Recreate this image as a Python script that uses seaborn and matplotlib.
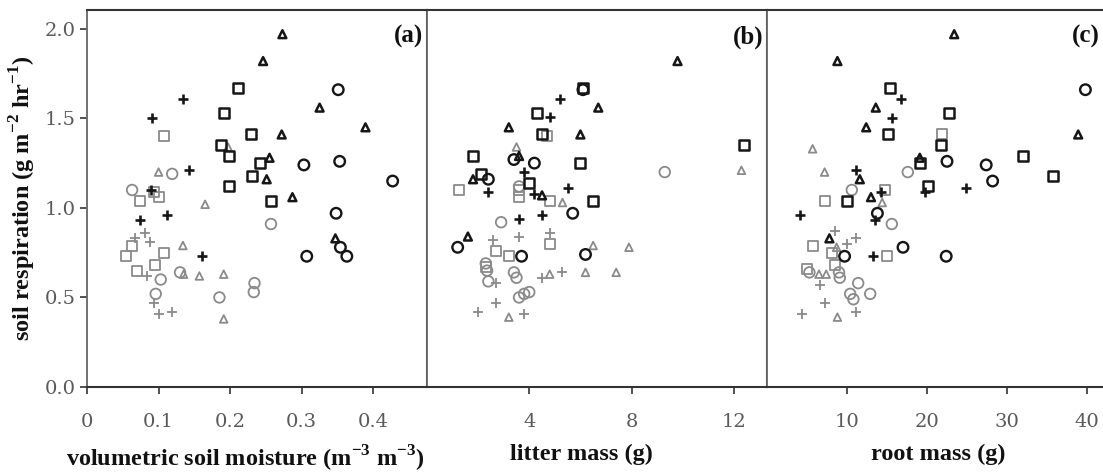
import matplotlib
matplotlib.use("Agg")
from matplotlib import pyplot as plt
import pandas as pd
import seaborn as sns

# soil respiration vs. moisture / litter / roots
# each list holds (x, respiration) pairs

# panel (a): volumetric soil moisture
a_black_tri = [(0.273, 1.97), (0.246, 1.82), (0.325, 1.56), (0.272, 1.41), (0.389, 1.45),
               (0.255, 1.28), (0.251, 1.16), (0.287, 1.06), (0.347, 0.83)]
a_black_sq = [(0.211, 1.67), (0.192, 1.53), (0.229, 1.41), (0.187, 1.35), (0.198, 1.29),
              (0.242, 1.25), (0.230, 1.18), (0.198, 1.12), (0.257, 1.04)]
a_black_circ = [(0.351, 1.66), (0.303, 1.24), (0.353, 1.26), (0.427, 1.15), (0.348, 0.97),
                (0.307, 0.73), (0.354, 0.78), (0.363, 0.73)]
a_black_plus = [(0.134, 1.61), (0.091, 1.50), (0.143, 1.21), (0.089, 1.10), (0.074, 0.93),
                (0.112, 0.96), (0.161, 0.73)]
a_gray_sq = [(0.108, 1.40), (0.074, 1.04), (0.101, 1.06), (0.093, 1.09), (0.054, 0.73),
             (0.063, 0.79), (0.070, 0.65), (0.095, 0.68), (0.108, 0.75)]
a_gray_circ = [(0.063, 1.10), (0.119, 1.19), (0.257, 0.91), (0.103, 0.60), (0.096, 0.52),
               (0.130, 0.64), (0.185, 0.50), (0.234, 0.58), (0.233, 0.53)]
a_gray_tri = [(0.100, 1.20), (0.165, 1.02), (0.197, 1.34), (0.134, 0.79), (0.135, 0.63),
              (0.157, 0.62), (0.191, 0.63), (0.191, 0.38)]
a_gray_plus = [(0.067, 0.83), (0.081, 0.86), (0.088, 0.81), (0.084, 0.62), (0.094, 0.47),
               (0.101, 0.41), (0.119, 0.42)]

# panel (b): litter mass
b_black_tri = [(9.8, 1.82), (6.7, 1.56), (3.2, 1.45), (6.0, 1.41), (3.6, 1.29),
               (1.8, 1.16), (4.5, 1.07), (1.6, 0.84)]
b_black_sq = [(6.1, 1.67), (4.3, 1.53), (4.5, 1.41), (1.8, 1.29), (6.0, 1.25),
              (2.1, 1.19), (4.0, 1.14), (6.5, 1.04), (12.4, 1.35)]
b_black_circ = [(6.1, 1.66), (3.4, 1.27), (4.2, 1.25), (2.4, 1.16), (5.7, 0.97),
                (1.2, 0.78), (3.7, 0.73), (6.2, 0.74)]
b_black_plus = [(5.2, 1.61), (4.8, 1.51), (3.8, 1.20), (2.4, 1.09), (4.2, 1.08),
                (5.5, 1.11), (3.6, 0.94), (4.5, 0.96)]
b_gray_sq = [(1.25, 1.10), (4.7, 1.40), (3.6, 1.10), (3.6, 1.06), (4.8, 1.04),
             (2.7, 0.76), (3.2, 0.73), (4.8, 0.80), (2.3, 0.67)]
b_gray_circ = [(9.3, 1.20), (2.9, 0.92), (3.6, 1.12), (2.3, 0.69), (2.35, 0.65),
               (2.4, 0.59), (3.4, 0.64), (3.5, 0.61), (3.6, 0.50), (3.8, 0.52), (4.0, 0.53)]
b_gray_tri = [(12.3, 1.21), (3.5, 1.34), (5.3, 1.03), (6.5, 0.79), (7.9, 0.78),
              (4.8, 0.63), (6.2, 0.64), (7.4, 0.64), (3.2, 0.39)]
b_gray_plus = [(2.6, 0.82), (3.6, 0.84), (4.8, 0.86), (2.7, 0.58), (4.5, 0.61),
               (5.3, 0.64), (2.7, 0.47), (2.0, 0.42), (3.8, 0.41)]

# panel (c): root mass
c_black_tri = [(23.4, 1.97), (8.8, 1.82), (13.6, 1.56), (12.4, 1.45), (38.9, 1.41),
               (19.1, 1.28), (11.6, 1.16), (13.0, 1.06), (7.8, 0.83)]
c_black_sq = [(15.4, 1.67), (22.8, 1.53), (15.1, 1.41), (21.7, 1.35), (19.1, 1.25),
              (32.0, 1.29), (35.8, 1.18), (20.1, 1.12), (10.0, 1.04)]
c_black_circ = [(39.8, 1.66), (22.5, 1.26), (27.4, 1.24), (28.2, 1.15), (13.8, 0.97),
                (17.0, 0.78), (9.7, 0.73), (22.4, 0.73)]
c_black_plus = [(16.8, 1.61), (15.6, 1.50), (11.1, 1.21), (19.8, 1.09), (24.9, 1.11),
                (14.3, 1.09), (4.1, 0.96), (13.5, 0.93), (13.3, 0.73)]
c_gray_sq = [(21.9, 1.41), (7.2, 1.04), (14.8, 1.10), (5.7, 0.79), (8.1, 0.75),
             (15.0, 0.73), (8.5, 0.68), (5.0, 0.66)]
c_gray_circ = [(17.6, 1.20), (10.6, 1.10), (15.6, 0.91), (9.0, 0.64), (9.1, 0.61),
               (11.4, 0.58), (10.4, 0.52), (10.8, 0.49), (12.9, 0.52), (5.3, 0.64)]
c_gray_tri = [(5.7, 1.33), (7.2, 1.20), (14.4, 1.03), (8.7, 0.78), (7.4, 0.63),
              (6.5, 0.63), (8.8, 0.39)]
c_gray_plus = [(8.5, 0.87), (10.0, 0.80), (11.1, 0.83), (6.6, 0.57), (7.3, 0.47),
               (4.4, 0.41), (11.1, 0.42)]

x_labels = ["volumetric soil moisture (m$^{-3}$ m$^{-3}$)", "litter mass (g)", "root mass (g)"]
panel_tags = ["(a)", "(b)", "(c)"]
tag_x = [0.99, 0.99, 0.978]
label_x = [0.465, 0.455, 0.505]
x_ticks = [[0, 0.1, 0.2, 0.3, 0.4], [4, 8, 12], [10, 20, 30, 40]]
x_ticklabels = [["0", "0.1", "0.2", "0.3", "0.4"], ["4", "8", "12"], ["10", "20", "30", "40"]]
x_limits = [(0, 0.475), (0, 13.3), (0, 42.5)]
y_ticks = [0.0, 0.5, 1.0, 1.5, 2.0]

BLACK = "#161616"
GRAY = "#8a8a8a"
# group name -> (marker, colour, size, line width)
styles = {
    "black_tri": ("^", BLACK, 32, 1.8),
    "black_sq": ("s", BLACK, 52, 1.8),
    "black_circ": ("o", BLACK, 58, 1.7),
    "black_plus": ("+", BLACK, 55, 1.9),
    "gray_sq": ("s", GRAY, 52, 1.3),
    "gray_circ": ("o", GRAY, 58, 1.3),
    "gray_tri": ("^", GRAY, 30, 1.3),
    "gray_plus": ("+", GRAY, 55, 1.3),
}
panels = [
    {"black_tri": a_black_tri, "black_sq": a_black_sq, "black_circ": a_black_circ,
     "black_plus": a_black_plus, "gray_sq": a_gray_sq, "gray_circ": a_gray_circ,
     "gray_tri": a_gray_tri, "gray_plus": a_gray_plus},
    {"black_tri": b_black_tri, "black_sq": b_black_sq, "black_circ": b_black_circ,
     "black_plus": b_black_plus, "gray_sq": b_gray_sq, "gray_circ": b_gray_circ,
     "gray_tri": b_gray_tri, "gray_plus": b_gray_plus},
    {"black_tri": c_black_tri, "black_sq": c_black_sq, "black_circ": c_black_circ,
     "black_plus": c_black_plus, "gray_sq": c_gray_sq, "gray_circ": c_gray_circ,
     "gray_tri": c_gray_tri, "gray_plus": c_gray_plus},
]

sns.set_theme(style="ticks")
plt.rcParams["font.family"] = ["Liberation Serif", "DejaVu Serif"]
plt.rcParams["mathtext.fontset"] = "custom"
plt.rcParams["mathtext.rm"] = "Liberation Serif:bold"
plt.rcParams["mathtext.bf"] = "Liberation Serif:bold"

tick_font = {"family": "DejaVu Serif", "size": 14, "color": "#5a5a5a"}

fig = plt.figure(figsize=(11.03, 4.74), dpi=100)
W, H = 1103.0, 474.0
lefts = [87, 427, 767]
for i, left in enumerate(lefts):
    ax = fig.add_axes([left / W, 87 / H, 340 / W, 377 / H])

    # gray markers first, black on top
    order = ["gray_sq", "gray_circ", "gray_tri", "gray_plus",
             "black_tri", "black_sq", "black_circ", "black_plus"]
    for name in order:
        pts = pd.DataFrame(panels[i][name], columns=["x", "resp"])
        marker, col, size, lw = styles[name]
        if marker == "+":
            sns.scatterplot(data=pts, x="x", y="resp", ax=ax, marker=marker,
                            color=col, s=size, linewidth=lw, legend=False)
        else:
            sns.scatterplot(data=pts, x="x", y="resp", ax=ax, marker=marker,
                            color=col, facecolor="none", edgecolor=col,
                            s=size, linewidth=lw, legend=False)

    ax.set_xlim(*x_limits[i])
    ax.set_ylim(0, 2.105)
    ax.set_xticks(x_ticks[i])
    ax.set_xticklabels(x_ticklabels[i], fontdict=tick_font)
    ax.set_xlabel(x_labels[i], fontsize=17.5, fontweight="bold", color="#111111")
    ax.xaxis.set_label_coords(label_x[i], -0.15)
    ax.tick_params(axis="x", direction="out", length=5, width=1.2, color="#333333", pad=14)

    if i == 0:
        ax.set_yticks(y_ticks)
        ax.set_yticklabels([f"{v:.1f}" for v in y_ticks], fontdict=tick_font)
        ax.set_ylabel("soil respiration (g m$^{-2}$ hr$^{-1}$)", fontsize=17.5,
                      fontweight="bold", color="#111111", labelpad=5)
        ax.tick_params(axis="y", direction="out", length=5, width=1.2, color="#333333", pad=3)
    else:
        ax.set_yticks([])
        ax.set_ylabel("")

    for side in ["top", "bottom", "right"]:
        ax.spines[side].set_color("#333333")
        ax.spines[side].set_linewidth(1.5)
    ax.spines["left"].set_color("#666666")
    ax.spines["left"].set_linewidth(1.3)

    ax.text(tag_x[i], 0.96, panel_tags[i], transform=ax.transAxes, ha="right", va="top",
            fontsize=18, fontweight="bold", color="#111111")

fig.savefig("out.png", dpi=100)
